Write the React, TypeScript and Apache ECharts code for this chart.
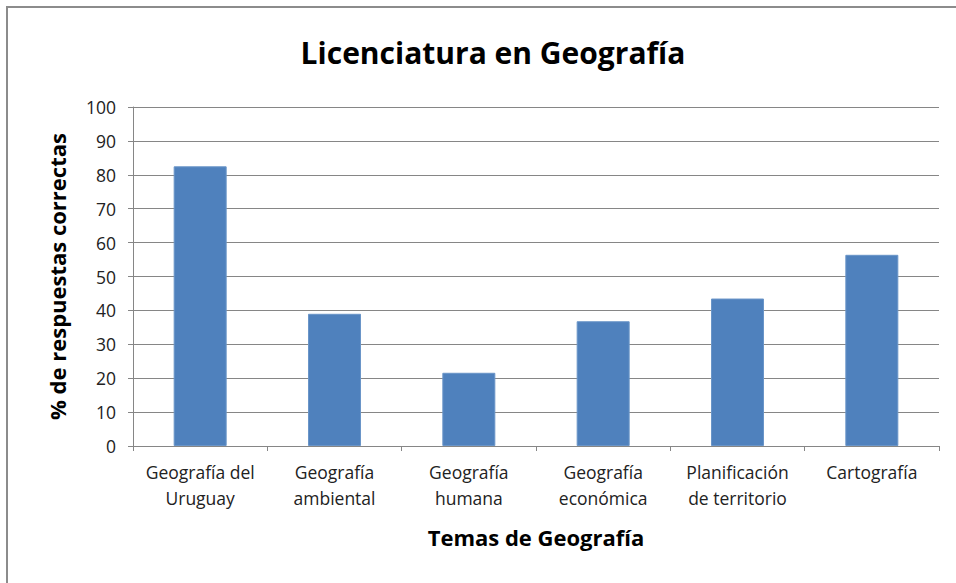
import React, { useEffect, useRef } from "react";
import * as echarts from "echarts";

const categories = [
  "Geografía del\nUruguay",
  "Geografía\nambiental",
  "Geografía\nhumana",
  "Geografía\neconómica",
  "Planificación\nde territorio",
  "Cartografía",
];
const values = [82.5, 39, 21.6, 36.8, 43.5, 56.4];
const titleText = "Licenciatura en Geografía";
const yAxisName = "% de respuestas correctas";
const xAxisName = "Temas de Geografía";

export default function App() {
  const ref = useRef<HTMLDivElement>(null);
  useEffect(() => {
    const chart = echarts.init(ref.current!, null, { renderer: "svg" });
    chart.setOption({
      animation: false,
      backgroundColor: "#ffffff",
      title: {
        text: titleText,
        left: 488,
        textAlign: "center",
        top: 32,
        textStyle: {
          fontFamily: "Open Sans",
          fontWeight: "bold",
          fontSize: 30,
          color: "#000",
        },
      },
      graphic: [
        {
          type: "rect",
          shape: { x: 7, y: 7, width: 1000, height: 700 },
          style: { fill: "none", stroke: "#8c8c8c", lineWidth: 2 },
          silent: true,
        },
      ],
      grid: { left: 133, right: 17, top: 107, bottom: 137 },
      xAxis: {
        type: "category",
        data: categories,
        name: xAxisName,
        nameLocation: "middle",
        nameGap: 80,
        nameTextStyle: {
          fontFamily: "Open Sans",
          fontWeight: "bold",
          fontSize: 22,
          color: "#000",
        },
        axisLine: { lineStyle: { color: "#868686", width: 1 } },
        axisTick: { show: true, length: 5, lineStyle: { color: "#868686" } },
        axisLabel: {
          interval: 0,
          margin: 13,
          fontFamily: "Open Sans",
          fontSize: 17.5,
          lineHeight: 26,
          color: "#222",
        },
        splitLine: { show: false },
      },
      yAxis: {
        type: "value",
        min: 0,
        max: 100,
        interval: 10,
        name: yAxisName,
        nameLocation: "middle",
        nameGap: 65,
        nameTextStyle: {
          fontFamily: "Open Sans",
          fontWeight: "bold",
          fontSize: 22,
          color: "#000",
        },
        axisLine: { show: true, lineStyle: { color: "#868686", width: 1 } },
        axisTick: { show: true, length: 5, lineStyle: { color: "#868686" } },
        axisLabel: {
          margin: 17,
          fontFamily: "Open Sans",
          fontSize: 17.5,
          color: "#222",
        },
        splitLine: { show: true, lineStyle: { color: "#868686", width: 1 } },
      },
      series: [
        {
          type: "bar",
          data: values,
          barWidth: 53,
          itemStyle: { color: "#4F81BD", borderColor: "#6a95c8", borderWidth: 1 },
        },
      ],
    });
    return () => chart.dispose();
  }, []);
  return (
    <div
      ref={ref}
      style={{ position: "fixed", left: 0, top: 0, width: 956, height: 583 }}
    />
  );
}
